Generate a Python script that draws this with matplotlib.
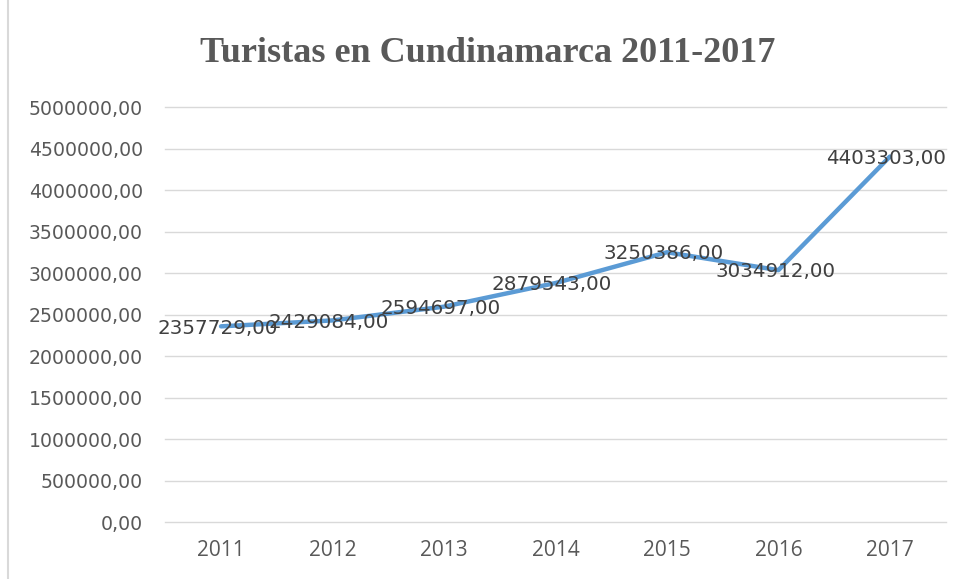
import matplotlib.pyplot as plt
from matplotlib.lines import Line2D
from matplotlib.ticker import FuncFormatter

# Tourists per year
years = ["2011", "2012", "2013", "2014", "2015", "2016", "2017"]
tourists = [2357729, 2429084, 2594697, 2879543, 3250386, 3034912, 4403303]
y_ticks = [0, 500000, 1000000, 1500000, 2000000, 2500000, 3000000, 3500000, 4000000, 4500000, 5000000]


def fmt_num(v, pos=None):
    # Spanish style: comma as decimal separator, no thousands grouping
    return f"{v:.2f}".replace(".", ",")


fig = plt.figure(figsize=(9.61, 5.79), dpi=100)
ax = fig.add_axes([0.172, 0.0984, 0.812, 0.7167])

x = list(range(len(years)))
ax.plot(x, tourists, color="#5B9BD5", linewidth=3.2, solid_capstyle="round", zorder=3)

# Value labels on top of each point
for xi, v in zip(x, tourists):
    ax.text(xi - 0.03, v - 20000, fmt_num(v), ha="center", va="center",
            fontsize=14.3, family="DejaVu Sans", color="#404040", zorder=4)

ax.set_xlim(-0.5, len(years) - 0.5)
ax.set_ylim(0, 5000000)
ax.set_yticks(y_ticks)
ax.yaxis.set_major_formatter(FuncFormatter(fmt_num))
ax.set_xticks(x)
ax.set_xticklabels(years)

ax.grid(axis="y", color="#D9D9D9", linewidth=1)
ax.set_axisbelow(True)
for gl in ax.get_ygridlines():
    gl.set_clip_on(False)
ax.tick_params(length=0, labelcolor="#595959")
ax.tick_params(axis="y", pad=16, labelsize=13.6)
ax.tick_params(axis="x", pad=13, labelsize=15)
for lbl in ax.get_yticklabels():
    lbl.set_family("DejaVu Sans")
for lbl in ax.get_xticklabels():
    lbl.set_family("Open Sans")
for s in ax.spines.values():
    s.set_visible(False)

fig.text(0.507, 1 - 53 / 579, "Turistas en Cundinamarca 2011-2017", ha="center", va="center",
         fontsize=26, fontweight="bold", family="Liberation Serif", color="#595959")

# Chart area border on the left edge
fig.add_artist(Line2D([8 / 961, 8 / 961], [0, 1], color="#D9D9D9", linewidth=1.5))

fig.savefig("out.png", dpi=100)
